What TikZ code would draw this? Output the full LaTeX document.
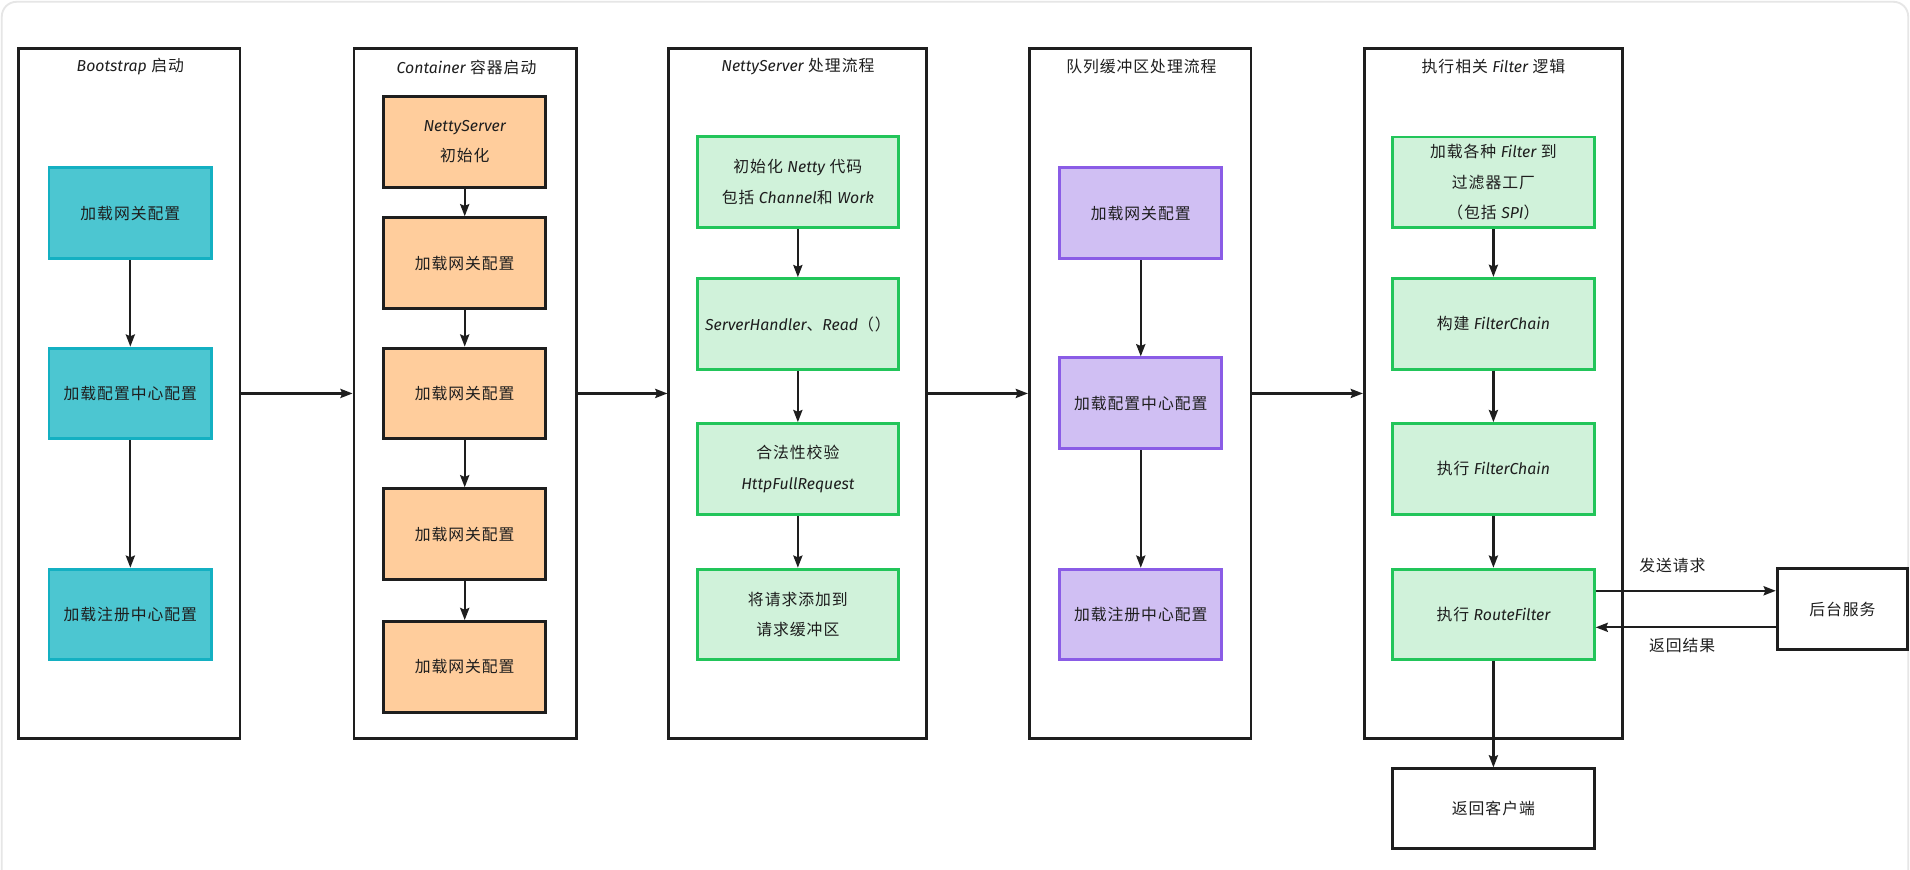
\documentclass[tikz,border=0pt]{standalone}
\usepackage{fontspec}
\setmainfont{Noto Sans CJK SC}[LetterSpace=6]
\newfontfamily\latfont{Fira Sans}
\newcommand\en[1]{{\latfont\itshape #1}}
\usetikzlibrary{arrows.meta}
\definecolor{ink}{HTML}{1E1E1E}
\definecolor{tealF}{HTML}{4CC6D1}
\definecolor{tealD}{HTML}{14B0C2}
\definecolor{orangeF}{HTML}{FFCD9C}
\definecolor{greenF}{HTML}{D0F2DA}
\definecolor{greenD}{HTML}{22C55A}
\definecolor{purpleF}{HTML}{D0BFF3}
\definecolor{purpleD}{HTML}{8A5CE6}
\definecolor{cardline}{HTML}{E6E6E6}
\begin{document}
\begin{tikzpicture}[x=1pt,y=-1pt,
  every node/.style={text=ink, font=\fontsize{13}{25}\selectfont},
  frame/.style={draw=ink, line width=2.3pt, minimum height=566pt, inner sep=0pt},
  title/.style={inner sep=0pt},
  box/.style={draw, line width=2.4pt, align=center, inner sep=0pt, minimum height=74.5pt},
  tealbox/.style={box, fill=tealF, draw=tealD, minimum width=133.6pt},
  orangebox/.style={box, fill=orangeF, draw=ink, minimum width=133pt},
  greenbox/.style={box, fill=greenF, draw=greenD, minimum width=165.5pt},
  purplebox/.style={box, fill=purpleF, draw=purpleD, minimum width=133pt},
  plainbox/.style={box, fill=white, draw=ink},
  arr/.style={draw=ink, line width=1.8pt, -{Stealth[length=10pt,width=7.5pt,inset=1.5pt]}},
  lbl/.style={inner sep=0pt}]
\useasboundingbox (0,0) rectangle (1568,714);
\fill[white] (0,0) rectangle (1568,714);
\draw[cardline, line width=1.5pt, rounded corners=12pt] (1.5,1.5) rectangle (1566.5,760);

% frames
\node[frame, minimum width=182pt] (f1) at (106,323) {};
\node[frame, minimum width=182.4pt] (f2) at (381.8,323) {};
\node[frame, minimum width=211.7pt] (f3) at (654.9,323) {};
\node[frame, minimum width=182pt] (f4) at (936,323) {};
\node[frame, minimum width=212pt] (f5) at (1226,323) {};

% titles
\node[title] (t1) at (107,55) {\en{Bootstrap} 启动};
\node[title] (t2) at (383,55) {\en{Container} 容器启动};
\node[title] (t3) at (655,55) {\en{NettyServer} 处理流程};
\node[title] (t4) at (937,55) {队列缓冲区处理流程};
\node[title] (t5) at (1226,55) {执行相关 \en{Filter} 逻辑};

% column 1
\node[tealbox] (a1) at (107,175) {加载网关配置};
\node[tealbox] (a2) at (107,323) {加载配置中心配置};
\node[tealbox] (a3) at (107,504.5) {加载注册中心配置};

% column 2
\node[orangebox] (b1) at (381.5,116.3) {\en{NettyServer}\\初始化};
\node[orangebox] (b2) at (381.5,216) {加载网关配置};
\node[orangebox] (b3) at (381.5,323) {加载网关配置};
\node[orangebox] (b4) at (381.5,438.5) {加载网关配置};
\node[orangebox] (b5) at (381.5,547.5) {加载网关配置};

% column 3
\node[greenbox] (c1) at (655,149.5) {初始化 \en{Netty} 代码\\包括 \en{Channel}和 \en{Work}};
\node[greenbox] (c2) at (655,266) {\en{ServerHandler}、\en{Read}（）};
\node[greenbox] (c3) at (655,385) {合法性校验\\\en{HttpFullRequest}};
\node[greenbox] (c4) at (655,504.5) {将请求添加到\\请求缓冲区};

% column 4
\node[purplebox] (d1) at (936.5,175) {加载网关配置};
\node[purplebox] (d2) at (936.5,331) {加载配置中心配置};
\node[purplebox] (d3) at (936.5,504.5) {加载注册中心配置};

% column 5
\node[greenbox] (e1) at (1226,149.75) {加载各种 \en{Filter} 到\\过滤器工厂\\（包括 \en{SPI}）};
\node[greenbox] (e2) at (1226,265.75) {构建 \en{FilterChain}};
\node[greenbox] (e3) at (1226,385) {执行 \en{FilterChain}};
\node[greenbox] (e4) at (1226,504.5) {执行 \en{RouteFilter}};

% outside boxes
\node[plainbox, minimum width=166pt, minimum height=65.6pt] (g1) at (1226,664) {返回客户端};
\node[plainbox, minimum width=107pt, minimum height=66pt] (bk) at (1512.5,500) {后台服务};

% arrows inside columns
\draw[arr] (a1) -- (a2);
\draw[arr] (a2) -- (a3);
\draw[arr] (b1) -- (b2);
\draw[arr] (b2) -- (b3);
\draw[arr] (b3) -- (b4);
\draw[arr] (b4) -- (b5);
\draw[arr] (c1) -- (c2);
\draw[arr] (c2) -- (c3);
\draw[arr] (c3) -- (c4);
\draw[arr] (d1) -- (d2);
\draw[arr] (d2) -- (d3);
\draw[arr] (e1) -- (e2);
\draw[arr] (e2) -- (e3);
\draw[arr] (e3) -- (e4);
\draw[arr] (e4) -- (g1);

% arrows between columns
\draw[arr] (f1.east) -- (f2.west);
\draw[arr] (f2.east) -- (f3.west);
\draw[arr] (f3.east) -- (f4.west);
\draw[arr] (f4.east) -- (f5.west);

% request / response
\coordinate (ys) at (0,485);
\coordinate (yr) at (0,515);
\draw[arr] (e4.east |- ys) -- (bk.west |- ys);
\draw[arr] (bk.west |- yr) -- (e4.east |- yr);
\node[lbl] (ls) at (1373,464) {发送请求};
\node[lbl] (lr) at (1381,529.5) {返回结果};
\end{tikzpicture}
\end{document}
